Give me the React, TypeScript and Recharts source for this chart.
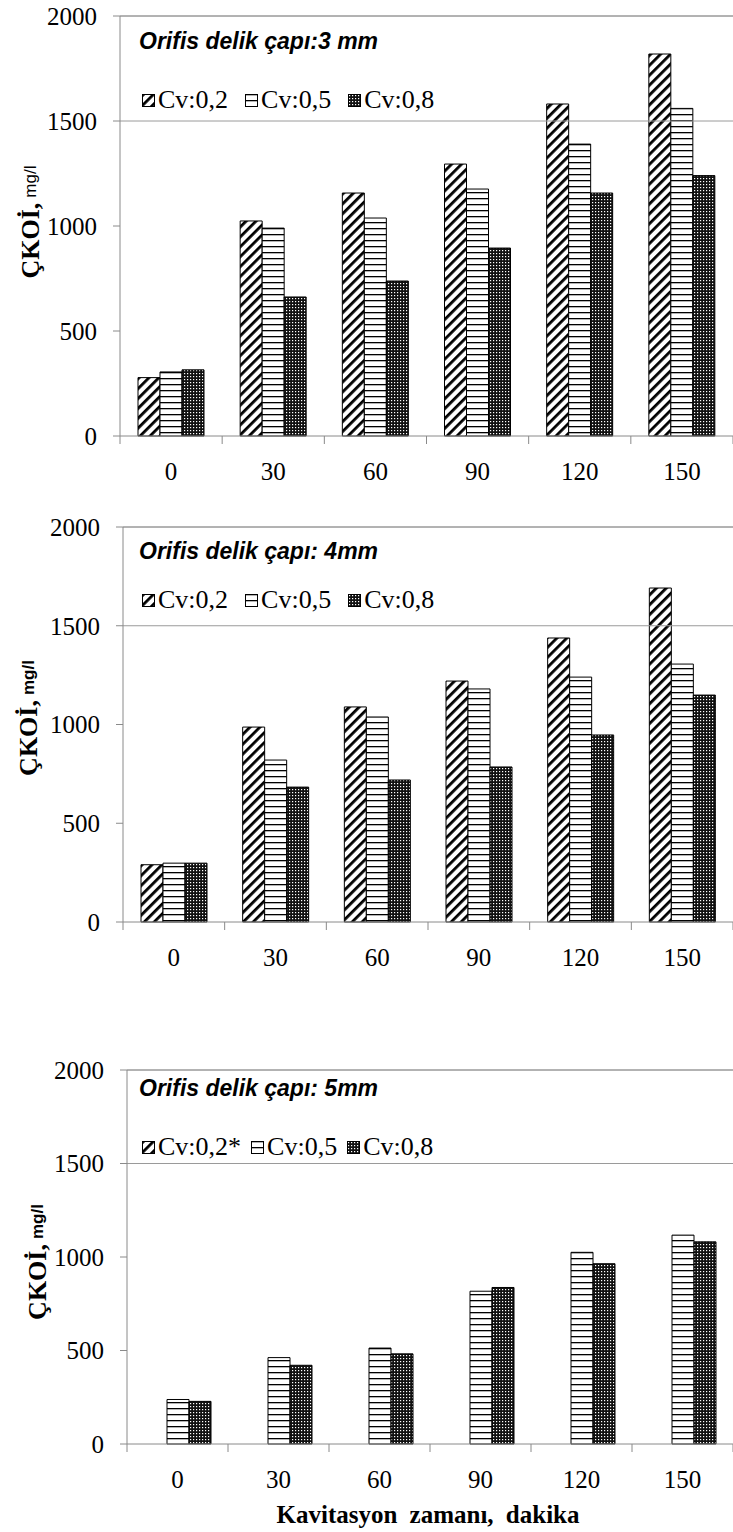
import React from 'react';
import { BarChart, Bar, XAxis, YAxis, Legend, ReferenceLine } from 'recharts';

// kavitasyon zamanı (dakika)
const times = ['0', '30', '60', '90', '120', '150'];
const yTicks = [0, 500, 1000, 1500, 2000];
const cvLabels = ['Cv:0,2', 'Cv:0,5', 'Cv:0,8'];
const cvLabels5mm = ['Cv:0,2*', 'Cv:0,5', 'Cv:0,8'];

// Orifis delik çapı 3 mm
const cv02_3mm = [278, 1024, 1157, 1295, 1581, 1819];
const cv05_3mm = [305, 990, 1038, 1176, 1390, 1560];
const cv08_3mm = [315, 662, 738, 895, 1157, 1240];

// Orifis delik çapı 4 mm
const cv02_4mm = [290, 987, 1089, 1220, 1438, 1691];
const cv05_4mm = [298, 820, 1038, 1180, 1240, 1306];
const cv08_4mm = [298, 683, 719, 785, 947, 1149];

// Orifis delik çapı 5 mm (Cv 0,2 ölçülmedi)
const cv02_5mm = [null, null, null, null, null, null];
const cv05_5mm = [238, 462, 513, 817, 1025, 1117];
const cv08_5mm = [228, 421, 482, 837, 964, 1081];

const SERIF = '"Liberation Serif", "Times New Roman", serif';
const SANS = '"Liberation Sans", Arial, sans-serif';
const AXIS = '#8a8a8a';

const build = (a: (number | null)[], b: (number | null)[], c: (number | null)[]) =>
  times.map((t, i) => ({ t, a: a[i], b: b[i], c: c[i] }));

function Patterns({ id }: { id: string }) {
  return (
    <defs>
      <pattern id={`${id}-diag`} patternUnits="userSpaceOnUse" width={7} height={7} patternTransform="rotate(45)">
        <rect width={7} height={7} fill="#fff" />
        <rect width={2.8} height={7} fill="#000" />
      </pattern>
      <pattern id={`${id}-hor`} patternUnits="userSpaceOnUse" width={6} height={6}>
        <rect width={6} height={6} fill="#fff" />
        <rect y={0} width={6} height={1.3} fill="#000" />
      </pattern>
      <pattern id={`${id}-dot`} patternUnits="userSpaceOnUse" width={3} height={3}>
        <rect width={3} height={3} fill="#111" />
        <rect x={1} y={1} width={1.2} height={1.2} fill="#fff" />
      </pattern>
    </defs>
  );
}

function XTick({ x, y, payload, index, bw, last }: any) {
  return (
    <g>
      <line x1={x - bw / 2} x2={x - bw / 2} y1={y} y2={y + 8} stroke={AXIS} />
      {index === last && <line x1={x + bw / 2} x2={x + bw / 2} y1={y} y2={y + 8} stroke={AXIS} />}
      <text x={x} y={y + 35} textAnchor="middle" dominantBaseline="central" fontFamily={SERIF} fontSize={25} fill="#000">
        {payload.value}
      </text>
    </g>
  );
}

function Panel({ top, height, plotTop, plotLeft, plotBottom, data, id, title, titleY, legendY, legendGap, labels, yLabelX, yLabelY, mgBold, xTitle }: any) {
  const bw = (733 - plotLeft) / times.length;
  const fills = [`url(#${id}-diag)`, `url(#${id}-hor)`, `url(#${id}-dot)`];
  return (
    <div style={{ position: 'absolute', left: 0, top, width: 733, height }}>
      <BarChart width={733} height={height} data={data} margin={{ top: plotTop, right: 0, bottom: 0, left: 0 }} barCategoryGap={18} barGap={0}>
        <Patterns id={id} />
        <XAxis
          dataKey="t"
          height={height - plotBottom}
          interval={0}
          tickSize={0}
          tickMargin={0}
          axisLine={{ stroke: AXIS }}
          tick={(p: any) => <XTick {...p} bw={bw} last={times.length - 1} />}
          label={xTitle ? {
            content: () => (
              <text x={428} y={514} textAnchor="middle" dominantBaseline="central" fontFamily={SERIF} fontWeight="bold" fontSize={25} wordSpacing={6}>
                {xTitle}
              </text>
            ),
          } : undefined}
        />
        <YAxis
          width={plotLeft}
          domain={[0, 2000]}
          ticks={yTicks}
          interval={0}
          tickSize={7}
          tickMargin={16}
          axisLine={{ stroke: AXIS }}
          tickLine={{ stroke: AXIS }}
          tick={{ fontFamily: SERIF, fontSize: 25, fill: '#000' }}
          label={{
            content: () => (
              <text x={yLabelX} y={yLabelY} transform={`rotate(-90 ${yLabelX} ${yLabelY})`} textAnchor="middle" dominantBaseline="central">
                <tspan fontFamily={SERIF} fontWeight="bold" fontSize={26}>ÇKOİ,</tspan>
                <tspan fontFamily={SANS} fontWeight={mgBold ? 'bold' : 'normal'} fontSize={17} dx={5}>mg/l</tspan>
              </text>
            ),
          }}
        />
        <ReferenceLine y={1500} stroke="#9a9a9a" />
        <ReferenceLine y={2000} stroke="#666" />
        <Legend
          layout="horizontal"
          verticalAlign="middle"
          align="center"
          wrapperStyle={{ left: 142, top: legendY - 16, width: 'auto', height: 32 }}
          content={() => (
            <div style={{ display: 'flex', alignItems: 'center', fontFamily: SERIF, fontSize: 26, lineHeight: '32px', whiteSpace: 'nowrap' }}>
              {labels.map((l: string, i: number) => (
                <div key={l} style={{ display: 'flex', alignItems: 'center', marginRight: legendGap }}>
                  <svg width={13} height={13} style={{ marginRight: 3 }}>
                    <rect x={0.5} y={0.5} width={12} height={12} fill={fills[i]} stroke="#000" />
                  </svg>
                  <span>{l}</span>
                </div>
              ))}
            </div>
          )}
        />
        <Bar dataKey="a" name={labels[0]} fill={fills[0]} stroke="#000" strokeWidth={1} isAnimationActive={false} />
        <Bar dataKey="b" name={labels[1]} fill={fills[1]} stroke="#000" strokeWidth={1} isAnimationActive={false} />
        <Bar dataKey="c" name={labels[2]} fill={fills[2]} stroke="#000" strokeWidth={1} isAnimationActive={false} />
      </BarChart>
      <div
        style={{
          position: 'absolute', left: 139, top: titleY - 14, fontFamily: SANS, fontStyle: 'italic',
          fontWeight: 'bold', fontSize: 23, lineHeight: '28px', whiteSpace: 'nowrap', color: '#000',
        }}
      >
        {title}
      </div>
    </div>
  );
}

export default function App() {
  return (
    <div style={{ position: 'absolute', left: 0, top: 0, width: 733, height: 1532, background: '#fff' }}>
      <Panel
        top={0} height={500} plotTop={16} plotLeft={120} plotBottom={436}
        data={build(cv02_3mm, cv05_3mm, cv08_3mm)} id="p3" title="Orifis delik çapı:3 mm" titleY={41}
        legendY={100} legendGap={17} labels={cvLabels} yLabelX={30} yLabelY={222} mgBold={false}
      />
      <Panel
        top={500} height={500} plotTop={27} plotLeft={123} plotBottom={422}
        data={build(cv02_4mm, cv05_4mm, cv08_4mm)} id="p4" title="Orifis delik çapı: 4mm" titleY={51}
        legendY={100} legendGap={17} labels={cvLabels} yLabelX={28} yLabelY={218} mgBold={true}
      />
      <Panel
        top={1000} height={532} plotTop={70} plotLeft={127} plotBottom={444}
        data={build(cv02_5mm, cv05_5mm, cv08_5mm)} id="p5" title="Orifis delik çapı: 5mm" titleY={88}
        legendY={147} legendGap={10} labels={cvLabels5mm} yLabelX={37} yLabelY={262} mgBold={true}
        xTitle="Kavitasyon zamanı, dakika"
      />
    </div>
  );
}
